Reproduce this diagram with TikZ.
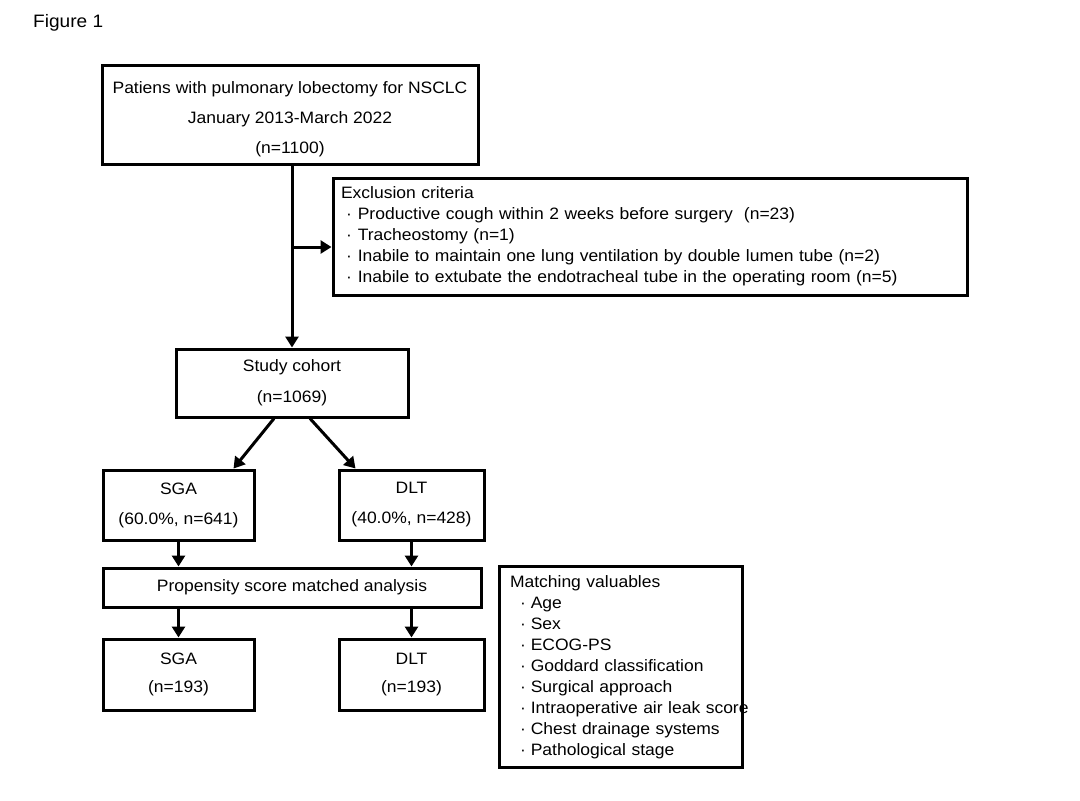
\documentclass[tikz,border=0pt]{standalone}
\usepackage{fontspec}
\setmainfont{Liberation Sans}[FakeStretch=1.06]
\usetikzlibrary{arrows.meta}

\begin{document}
\begin{tikzpicture}[x=1pt,y=-1pt,
  box/.style={draw,line width=3pt,font=\fontsize{16.5}{20}\selectfont,align=center,inner sep=0pt},
  arr/.style={line width=3pt,-{Triangle[length=11pt,width=13pt]}}]
\useasboundingbox (0,0) rectangle (1080,801);
\node[anchor=west,inner sep=0pt,font=\fontsize{18}{22}\selectfont] (fig) at (33,23) {Figure 1};
\node[box,minimum width=376pt,minimum height=99pt] (top) at (290,114.5) {\rule{0pt}{22pt}Patiens with pulmonary lobectomy for NSCLC\\[10pt]January 2013-March 2022\\[10pt](n=1100)};
\node[box,align=left,minimum width=634pt,minimum height=117pt,text width=618pt] (excl) at (650,236.5) {Exclusion criteria\\[1pt]
\hspace*{5pt}·\hspace{6pt}Productive cough within 2 weeks before surgery\ \ (n=23)\\[1pt]
\hspace*{5pt}·\hspace{6pt}Tracheostomy (n=1)\\[1pt]
\hspace*{5pt}·\hspace{6pt}Inabile to maintain one lung ventilation by double lumen tube (n=2)\\[1pt]
\hspace*{5pt}·\hspace{6pt}Inabile to extubate the endotracheal tube in the operating room (n=5)};
\node[box,minimum width=232pt,minimum height=68pt] (cohort) at (292,383) {Study cohort\\[11pt](n=1069)};
\node[box,minimum width=151pt,minimum height=70pt] (sga) at (178.5,505) {SGA\\[10pt](60.0\%, n=641)};
\node[box,minimum width=145pt,minimum height=70pt] (dlt) at (411.5,505) {DLT\\[10pt](40.0\%, n=428)};
\node[box,minimum width=378pt,minimum height=39pt] (psm) at (292,587.5) {Propensity score matched analysis};
\node[box,minimum width=151pt,minimum height=71pt] (sgam) at (178.5,674.5) {SGA\\[8pt](n=193)};
\node[box,minimum width=145pt,minimum height=71pt] (dltm) at (411.5,674.5) {DLT\\[8pt](n=193)};
\node[box,align=left,minimum width=243pt,minimum height=201pt,text width=221pt] (match) at (620.5,667) {Matching valuables\\[1pt]
\hspace*{10pt}·\hspace{5pt}Age\\[1pt]
\hspace*{10pt}·\hspace{5pt}Sex\\[1pt]
\hspace*{10pt}·\hspace{5pt}ECOG-PS\\[1pt]
\hspace*{10pt}·\hspace{5pt}Goddard classification\\[1pt]
\hspace*{10pt}·\hspace{5pt}Surgical approach\\[1pt]
\hspace*{10pt}·\hspace{5pt}\rlap{Intraoperative air leak score}\\[1pt]
\hspace*{10pt}·\hspace{5pt}Chest drainage systems\\[1pt]
\hspace*{10pt}·\hspace{5pt}Pathological stage};
\coordinate (split) at (292,247);
\draw[arr] (top.south -| cohort.north) -- (cohort.north);
\draw[arr] (split) -- (excl.west |- split);
\draw[arr] ([xshift=-18pt]cohort.south) -- ([xshift=55pt]sga.north);
\draw[arr] ([xshift=18pt]cohort.south) -- ([xshift=-56pt]dlt.north);
\draw[arr] (sga.south) -- (sga.south |- psm.north);
\draw[arr] (dlt.south) -- (dlt.south |- psm.north);
\draw[arr] (sgam.north |- psm.south) -- (sgam.north);
\draw[arr] (dltm.north |- psm.south) -- (dltm.north);
\end{tikzpicture}
\end{document}
